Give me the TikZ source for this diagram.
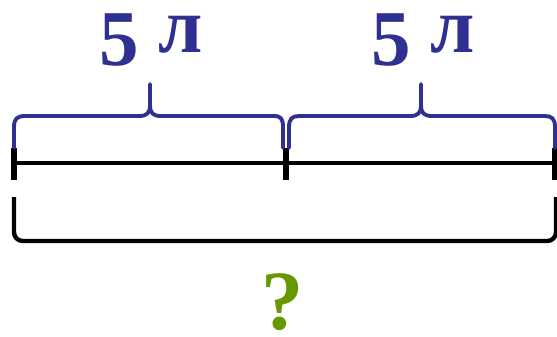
\documentclass[tikz,border=0pt]{standalone}
\usepackage{fontspec}
\setmainfont{Liberation Serif}
\definecolor{litreblue}{HTML}{2E3192}
\definecolor{askgreen}{HTML}{669900}
\tikzset{
  bracepath/.style={litreblue, line width=2.2pt, line cap=round, line join=round},
  segline/.style={black, line width=2.7pt},
  tickline/.style={black, line width=3.1pt},
  totalbrace/.style={black, line width=2.5pt, rounded corners=5pt},
  amount/.style={anchor=base, text=litreblue, font=\fontsize{45}{50}\selectfont\bfseries}
}
\begin{document}
\begin{tikzpicture}[x=0.02cm, y=-0.02cm]

  % pixel grid: 557 x 336, y grows downwards
  \useasboundingbox (0,0) rectangle (557,336);

  % ---- (1) the segment and its three ticks ----
  \coordinate (A) at (14,163);
  \coordinate (B) at (286,163);
  \coordinate (C) at (555,163);
  \draw[segline] (A) -- (C);
  \foreach \p in {A,B,C} {
    \draw[tickline] ([yshift=0.3cm]\p) -- ([yshift=-0.34cm]\p);
  }

  % ---- (2) left brace: first part ----
  \draw[bracepath] (14,148) -- (14,127)
    .. controls (14,119) and (17,116) .. (25,116) -- (139,116)
    .. controls (147,116) and (150,113) .. (150,105) -- (150,84)
    (150,105) .. controls (150,113) and (153,116) .. (161,116) -- (274,116)
    .. controls (281,116) and (283,119) .. (283,127) -- (283,148);

  % ---- (3) right brace: second part ----
  \draw[bracepath] (289,148) -- (289,127)
    .. controls (289,119) and (292,116) .. (299,116) -- (410,116)
    .. controls (418,116) and (421,113) .. (421,105) -- (421,84)
    (421,105) .. controls (421,113) and (424,116) .. (432,116) -- (545,116)
    .. controls (552,116) and (555,119) .. (555,127) -- (555,148);

  % ---- (4) labels over the braces ----
  \node[amount] (left) at (151,65) {5 \raisebox{0.26cm}{л}};
  \node[amount] (right) at (423,65) {5 \raisebox{0.26cm}{л}};

  % ---- (5) bracket for the whole ----
  \draw[totalbrace] (14,197) -- (14,241) -- (556,241) -- (556,197);

  % ---- (6) the unknown ----
  \node[text=askgreen, font=\fontsize{48}{54}\selectfont\bfseries] (total) at (283,302) {?};

\end{tikzpicture}
\end{document}
